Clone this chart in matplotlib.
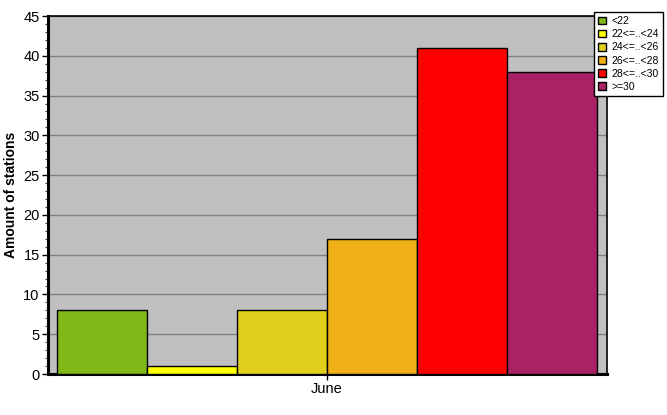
import matplotlib
matplotlib.use("Agg")
import matplotlib.pyplot as plt
from matplotlib.ticker import MultipleLocator
from matplotlib.patches import Patch

plt.rcParams['font.family'] = ['Liberation Sans', 'DejaVu Sans']

# categorias y valores
categorias = ['<22', '22<=..<24', '24<=..<26', '26<=..<28', '28<=..<30', '>=30']
valores = [8, 1, 8, 17, 41, 38]
colores = ['#80B818', '#FFFF00', '#E0D01C', '#F0B018', '#FF0000', '#AA2266']
mes = 'June'

fig = plt.figure(figsize=(6.67, 4.15), dpi=100)
ax = fig.add_axes([48 / 667, 41 / 415, 559 / 667, 358 / 415])
ax.set_facecolor('#C0C0C0')

for i in range(len(valores)):
    ax.bar(i, valores[i], width=1.0, color=colores[i], edgecolor='black', linewidth=1, zorder=3)

ax.set_xlim(-0.6, 5.61)
ax.set_ylim(0, 45)
ax.yaxis.set_major_locator(MultipleLocator(5))
ax.yaxis.set_minor_locator(MultipleLocator(1))
ax.grid(axis='y', color='#808080', linewidth=1, zorder=1)
ax.set_xticks([2.5])
ax.set_xticklabels([mes])
ax.tick_params(axis='both', labelsize=10.5, direction='out', length=4, width=1, pad=2)
ax.tick_params(axis='y', which='minor', length=2, width=0.8, color='#404040')
ax.set_ylabel('Amount of stations', fontsize=10, fontweight='bold', labelpad=4)

for s in ['left', 'bottom']:
    ax.spines[s].set_linewidth(2.2)
for s in ['top', 'right']:
    ax.spines[s].set_linewidth(1.2)

handles = [Patch(facecolor=colores[i], edgecolor='black', label=categorias[i]) for i in range(len(categorias))]
leg = fig.legend(handles=handles, loc='upper left', bbox_to_anchor=(594 / 667, 1 - 12 / 415),
                 fontsize=7.5, frameon=True, fancybox=False, framealpha=1, edgecolor='black',
                 handlelength=0.75, handleheight=0.75, handletextpad=0.5, labelspacing=0.3,
                 borderpad=0.4, borderaxespad=0)
leg.get_frame().set_linewidth(1)

fig.savefig('out.png', dpi=100)
